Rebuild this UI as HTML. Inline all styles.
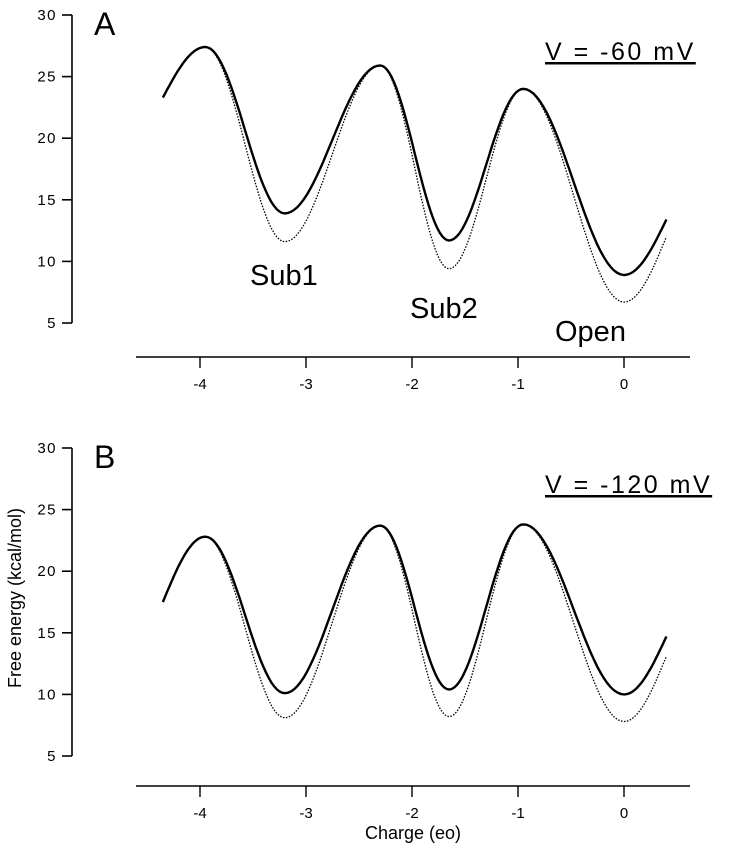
<!DOCTYPE html>
<html><head><meta charset="utf-8"><style>
body{margin:0;background:#fff}
svg{display:block;font-family:"Liberation Sans",sans-serif}
</style></head><body>
<svg id="chart" width="731" height="853"></svg>
<script>
const xTicks=[-4,-3,-2,-1,0];
const yTicks=[5,10,15,20,25,30];
const extX=[-4.35,-3.95,-3.2,-2.3,-1.65,-0.95,0,0.4];
const aSolid=[23.3,27.4,13.9,25.9,11.7,24.0,8.9,13.4];
const aDotted=[23.3,27.4,11.6,25.9,9.4,24.0,6.7,12.0];
const bSolid=[17.5,22.8,10.1,23.7,10.4,23.8,10.0,14.7];
const bDotted=[17.5,22.8,8.1,23.7,8.2,23.8,7.8,13.1];
const NS="http://www.w3.org/2000/svg";
const svg=document.getElementById('chart');
function mk(t,a,p){const e=document.createElementNS(NS,t);for(const k in a)e.setAttribute(k,a[k]);(p||svg).appendChild(e);return e;}
const xs=v=>624+v*106;
function panel(name,top,axisY,solid,dotted,label,vText,vY){
  const g=mk('g',{});
  
  
  const ys=v=>top+(30-v)*(308/25);
  const ya=mk('line',{x1:72,x2:72,y1:ys(30),y2:ys(5),stroke:'#000','stroke-width':1.6},g);
  
  yTicks.forEach(t=>{
    mk('line',{x1:62,x2:72,y1:ys(t),y2:ys(t),stroke:'#000','stroke-width':1.6},g);
    const tx=mk('text',{x:57,y:ys(t)+5,'text-anchor':'end','font-size':15,'letter-spacing':1.5},g);
    tx.textContent=t;
    
  });
  const xa=mk('line',{x1:136,x2:690,y1:axisY,y2:axisY,stroke:'#000','stroke-width':1.6},g);
  
  xTicks.forEach(t=>{
    mk('line',{x1:xs(t),x2:xs(t),y1:axisY,y2:axisY+11,stroke:'#000','stroke-width':1.4},g);
    const tx=mk('text',{x:xs(t),y:axisY+32,'text-anchor':'middle','font-size':15},g);
    tx.textContent=t;
    
  });
  function path(vals,dash,w,nm){
    let d='';const n=extX.length-1;
    for(let i=0;i<n;i++){
      for(let s=0;s<=30;s++){
        if(i>0&&s==0)continue;
        const f=s/30;
        let c;
        if(i==0)c=Math.sin(Math.PI/2*f);
        else if(i==n-1)c=1-Math.cos(Math.PI/2*f);
        else c=(1-Math.cos(Math.PI*f))/2;
        const x=extX[i]+(extX[i+1]-extX[i])*f;
        const y=vals[i]+(vals[i+1]-vals[i])*c;
        d+=(d?'L':'M')+xs(x).toFixed(1)+','+ys(y).toFixed(1);
      }
    }
    const p=mk('path',{d:d,fill:'none',stroke:'#000','stroke-width':w,'stroke-dasharray':dash},g);
    
  }
  path(dotted,'1.5,1.5',1.3,'dotted-curve');
  path(solid,'none',2.4,'solid-curve');
  const L=mk('text',{x:94,y:top+20,'font-size':32},g);L.textContent=label;
  
  const V=mk('text',{x:545,y:vY,'font-size':25,'letter-spacing':2.5,'text-decoration':'underline','xml:space':'preserve'},g);V.textContent=vText;
  
  return ys;
}
panel('panel-a',15,357,aSolid,aDotted,'A','V = -60 mV',60);
panel('panel-b',448,786,bSolid,bDotted,'B','V = -120 mV',493);
[['Sub1',250,285],['Sub2',410,318],['Open',555,341]].forEach(a=>{
  const t=mk('text',{x:a[1],y:a[2],'font-size':29});t.textContent=a[0];
  
});
const xt=mk('text',{x:413,y:839,'text-anchor':'middle','font-size':18});xt.textContent='Charge (eo)';

const yt=mk('text',{x:0,y:0,'text-anchor':'middle','font-size':18,transform:'translate(21,598) rotate(-90)'});yt.textContent='Free energy (kcal/mol)';

</script>
</body></html>
